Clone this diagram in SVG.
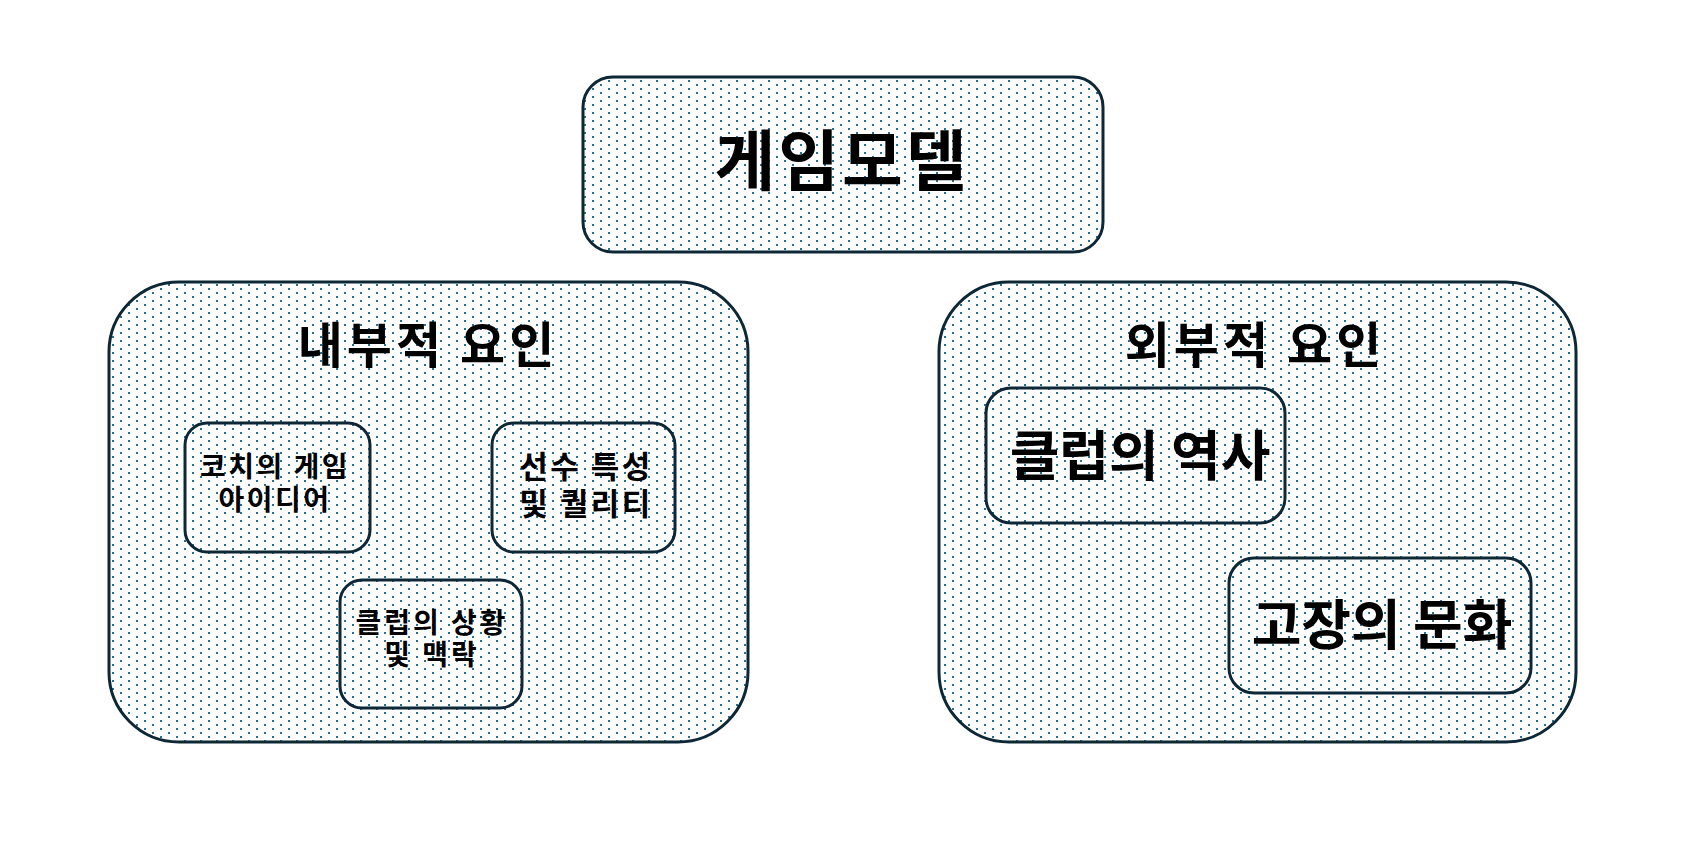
<svg xmlns="http://www.w3.org/2000/svg" width="1689" height="849" viewBox="0 0 1689 849">
<defs>
<pattern id="dots" patternUnits="userSpaceOnUse" x="0" y="0" width="16" height="8">
<rect x="0" y="0" width="2" height="2" fill="#2a7190"/>
<rect x="8" y="4" width="2" height="2" fill="#2a7190"/>
</pattern>
</defs>
<style>
.box{fill:url(#dots);stroke:#0e2736;stroke-width:3}
text{font-family:"Noto Sans CJK KR","Noto Sans CJK SC",sans-serif;font-weight:bold;fill:#000;text-anchor:middle}
.s{font-size:28px;letter-spacing:2.5px}
</style>
<rect x="0" y="0" width="1689" height="849" fill="#ffffff"/>
<g id="connectors"></g>
<g id="node-top">
<rect class="box" x="583" y="77" width="520" height="175" rx="30" ry="30"/>
<text x="842" y="185" font-size="66" letter-spacing="3">게임모델</text>
</g>
<g id="node-internal">
<rect class="box" x="109" y="282" width="639" height="460" rx="70" ry="70"/>
<text x="428" y="363" font-size="49" letter-spacing="4">내부적 요인</text>
</g>
<g id="node-external">
<rect class="box" x="939" y="282" width="637" height="460" rx="70" ry="70"/>
<text x="1255" y="363" font-size="49" letter-spacing="4">외부적 요인</text>
</g>
<g id="node-coach">
<rect class="box" x="185" y="423" width="185" height="129" rx="22" ry="22"/>
<text class="s" x="275" y="477"><tspan x="275">코치의 게임</tspan><tspan x="275" dy="33">아이디어</tspan></text>
</g>
<g id="node-player">
<rect class="box" x="492" y="423" width="183" height="129" rx="22" ry="22"/>
<text x="586" y="478" font-size="31" letter-spacing="2.5"><tspan x="586">선수 특성</tspan><tspan x="586" dy="37">및 퀄리티</tspan></text>
</g>
<g id="node-club-context">
<rect class="box" x="340" y="580" width="182" height="128" rx="22" ry="22"/>
<text x="432" y="633" font-size="28" letter-spacing="3"><tspan x="432">클럽의 상황</tspan><tspan x="432" dy="32">및 맥락</tspan></text>
</g>
<g id="node-club-history">
<rect class="box" x="986" y="388" width="299" height="135" rx="25" ry="25"/>
<text x="1140" y="476" font-size="54">클럽의 역사</text>
</g>
<g id="node-local-culture">
<rect class="box" x="1229" y="558" width="302" height="135" rx="25" ry="25"/>
<text x="1382" y="645" font-size="54">고장의 문화</text>
</g>
</svg>
